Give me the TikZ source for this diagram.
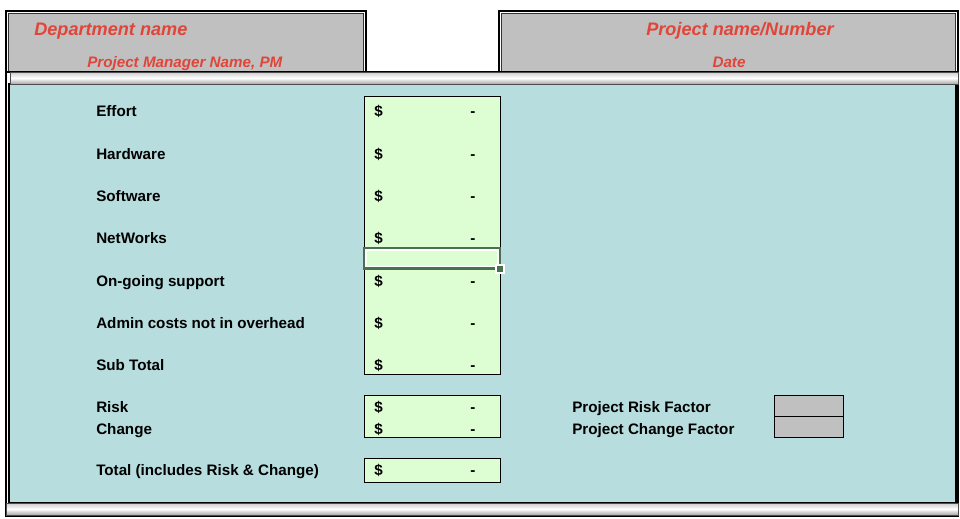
\documentclass[tikz,border=0pt]{standalone}
\usepackage{fontspec}
\setmainfont{Liberation Sans}
\begin{document}
\begin{tikzpicture}[x=0.75pt,y=-0.75pt,
  lbl/.style={anchor=base west,font=\bfseries\fontsize{11.4}{13}\selectfont,inner sep=0pt},
  red1/.style={text=hred,font=\bfseries\itshape\fontsize{13.6}{15}\selectfont,inner sep=0pt},
  red2/.style={text=hred,font=\bfseries\itshape\fontsize{11.4}{13}\selectfont,inner sep=0pt},
  cellbox/.style={draw=black,line width=0.9pt,fill=cellg},
  graybox/.style={draw=black,line width=0.9pt,fill=hgray}]
\definecolor{hred}{HTML}{E0453A}
\definecolor{hgray}{HTML}{C0C0C0}
\definecolor{teal1}{HTML}{B7DDDE}
\definecolor{cellg}{HTML}{DDFDD3}
\definecolor{selg}{HTML}{4A7050}
\useasboundingbox (0,0) rectangle (960,518);
\fill[white] (0,0) rectangle (960,518);
% headers
\foreach \a/\b in {6/366,499/958}{
  \draw[line width=0.8pt,fill=white] (\a,11) rectangle (\b,80);
  \draw[line width=0.8pt,draw=black!80,fill=hgray] (\a+2.5,13.5) rectangle (\b-2.5,80);
}
% main area
\draw[line width=0.8pt,fill=white] (6,72) rectangle (958,516);
\draw[line width=0.8pt,fill=teal1] (9,84) rectangle (956,503);
% bars
\shade[top color=white!60!gray,bottom color=gray!70,middle color=white] (10,72) rectangle (958,84);
\draw[line width=0.6pt,draw=black!70] (10,72) rectangle (958,84);
\shade[top color=white!60!gray,bottom color=gray!70,middle color=white] (6,503) rectangle (958,515);
\draw[line width=0.6pt,draw=black!70] (6,503) rectangle (958,515);
% header texts
\node[red1,anchor=base west] (dn) at (34,35) {Department name};
\node[red2,anchor=base west] (pm) at (87,67) {Project Manager Name, PM};
\node[red1,anchor=base] (pn) at (740,35) {Project name/Number};
\node[red2,anchor=base] (dt) at (729,67) {Date};
% cell boxes
\node[cellbox,minimum width=102pt,minimum height=208.5pt,anchor=north west,inner sep=0pt] (col) at (364,96) {};
\node[cellbox,minimum width=102pt,minimum height=31.5pt,anchor=north west,inner sep=0pt] (rc) at (364,395) {};
\node[cellbox,minimum width=102pt,minimum height=18pt,anchor=north west,inner sep=0pt] (tc) at (364,458) {};
\foreach \n/\t/\y in {e/Effort/111,h/Hardware/154,s/Software/196,n/NetWorks/238,o/On-going support/281,a/Admin costs not in overhead/323,st/Sub Total/365,r/Risk/407,c/Change/429,t/Total (includes Risk \& Change)/470}{
  \node[lbl] (l\n) at (96,\y+5) {\t};
  \node[lbl] (d\n) at (374,\y+5) {\$};
  \node[lbl] (m\n) at (470,\y+5) {-};
}
% selected cell
\draw[selg,line width=2pt,fill=white] (364,248) rectangle (500,268.5);
\fill[cellg] (367,251) rectangle (497,265.5);
\fill[white] (495,264) rectangle (505,274);
\fill[selg] (497,266) rectangle (503,272);
% right labels
\node[lbl] (prf) at (572,412) {Project Risk Factor};
\node[lbl] (pcf) at (572,434) {Project Change Factor};
\node[graybox,minimum width=51.75pt,minimum height=15.75pt,anchor=north west,inner sep=0pt] (g1) at (774,395) {};
\node[graybox,minimum width=51.75pt,minimum height=15.75pt,anchor=north west,inner sep=0pt] (g2) at (774,416) {};
\end{tikzpicture}
\end{document}
